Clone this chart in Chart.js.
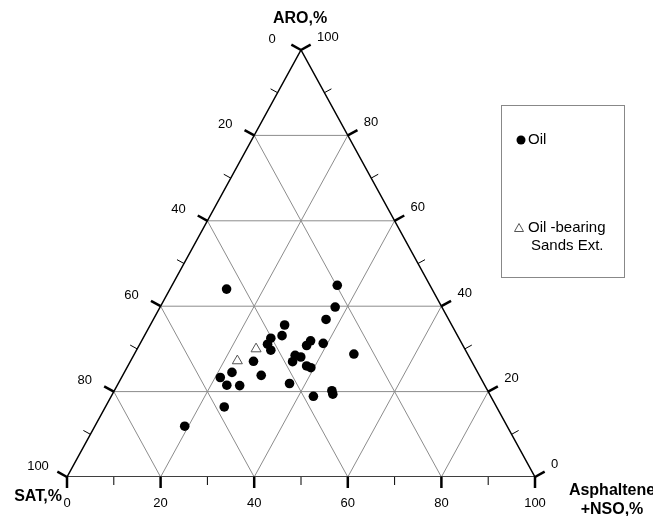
<!DOCTYPE html>
<html>
<head>
<meta charset="utf-8">
<script src="https://cdn.jsdelivr.net/npm/chart.js@4.4.0/dist/chart.umd.min.js"></script>
<style>
html,body{margin:0;padding:0;background:#fff;}
</style>
</head>
<body>
<canvas id="ternary" width="653" height="516"></canvas>
<script>
// oil samples, % SAT / ARO / Asphaltene+NSO
const oilSat  = [43.9,19.8,22.8,26.2,35.7,37.5,40.2,41.6,41.6,32.0,33.4,29.6,24.3,37.0,36.0,38.3,35.8,35.1,46.6,52.5,55.6,46.6,55.1,52.4,41.5,33.3,33.5,37.9,58.2,68.9];
const oilAro  = [44.0,44.9,39.8,36.9,35.6,33.1,32.5,31.1,29.7,31.9,30.8,31.3,28.8,28.5,28.1,27.0,26.0,25.6,27.1,24.5,23.3,23.8,21.5,21.4,21.9,20.2,19.4,18.9,16.4,11.9];
const oilAsph = [12.1,35.3,37.4,36.9,28.7,29.4,27.3,27.3,28.7,36.1,35.8,39.1,46.9,34.5,35.9,34.7,38.2,39.3,26.3,23.0,21.1,29.6,23.4,26.2,36.6,46.5,47.1,43.2,25.4,19.2];

// oil-bearing sands extracts
const sandSat  = [44.6,50.0];
const sandAro  = [30.0,27.2];
const sandAsph = [25.4,22.8];

const majorTicks = [0,20,40,60,80,100];
const minorTicks = [10,30,50,70,90];
const gridValues = [20,40,60,80];

// ternary -> cartesian (0..100 on both axes, stretched to the frame)
function toXY(sat, aro, asph){
  const s = sat + aro + asph;
  return {x: (asph + aro/2) * 100 / s, y: aro * 100 / s};
}

const oilPts = oilSat.map((s,i)=>toXY(s, oilAro[i], oilAsph[i]));
const sandPts = sandSat.map((s,i)=>toXY(s, sandAro[i], sandAsph[i]));

const gridSets = [];
gridValues.forEach(v=>{
  const segs = [
    [toXY(100-v, v, 0), toXY(0, v, 100-v)],
    [toXY(100-v, 0, v), toXY(0, 100-v, v)],
    [toXY(v, 0, 100-v), toXY(v, 100-v, 0)]
  ];
  segs.forEach(seg=>gridSets.push({
    data: seg, showLine: true, pointRadius: 0, borderColor: '#8c8c8c', borderWidth: 1, fill: false
  }));
});

const frame = [toXY(100,0,0), toXY(0,0,100), toXY(0,100,0), toXY(100,0,0)];

// sides: position of a tick value on each side + which way is "out"
const sides = [
  {name:'bottom', pos: v=>toXY(100-v, 0, v), opp: toXY(0,100,0)},
  {name:'left',   pos: v=>toXY(v, 100-v, 0), opp: toXY(0,0,100)},
  {name:'right',  pos: v=>toXY(0, v, 100-v), opp: toXY(100,0,0)}
];

const ternaryDecor = {
  id: 'ternaryDecor',
  afterDatasetsDraw(chart){
    const ctx = chart.ctx;
    const xs = chart.scales.x, ys = chart.scales.y;
    const px = p => ({x: xs.getPixelForValue(p.x), y: ys.getPixelForValue(p.y)});

    ctx.save();
    ctx.strokeStyle = '#000';
    ctx.lineCap = 'butt';
    sides.forEach(side=>{
      const a = px(side.pos(0)), b = px(side.pos(100)), o = px(side.opp);
      let nx = -(b.y - a.y), ny = b.x - a.x;
      const len = Math.hypot(nx, ny); nx /= len; ny /= len;
      const mx = (a.x+b.x)/2, my = (a.y+b.y)/2;
      if ((o.x-mx)*nx + (o.y-my)*ny > 0){ nx = -nx; ny = -ny; }
      const drawTick = (v, l, w)=>{
        const p = px(side.pos(v));
        ctx.lineWidth = w;
        ctx.beginPath();
        ctx.moveTo(p.x, p.y);
        ctx.lineTo(p.x + nx*l, p.y + ny*l);
        ctx.stroke();
      };
      minorTicks.forEach(v=>drawTick(v, 8, 1));
      majorTicks.forEach(v=>drawTick(v, 11, 2.5));

      ctx.fillStyle = '#000';
      ctx.font = '13px "Liberation Sans", Arial, sans-serif';
      ctx.textBaseline = 'middle';
      majorTicks.forEach(v=>{
        const p = px(side.pos(v));
        if (side.name === 'bottom'){
          ctx.textAlign = 'center';
          ctx.fillText(String(v), p.x, p.y + 26);
        } else if (side.name === 'left'){
          ctx.textAlign = 'center';
          ctx.fillText(String(v), p.x - 29, p.y - 11);
        } else {
          ctx.textAlign = 'left';
          ctx.fillText(String(v), p.x + 16, p.y - 13);
        }
      });
    });

    // axis titles
    ctx.font = 'bold 16px "Liberation Sans", Arial, sans-serif';
    ctx.textAlign = 'center';
    ctx.fillText('ARO,%', 300, 19);
    ctx.fillText('SAT,%', 38, 497);
    ctx.fillText('Asphaltene', 612, 491);
    ctx.fillText('+NSO,%', 612, 510);

    // legend box
    ctx.strokeStyle = '#888';
    ctx.lineWidth = 1;
    ctx.strokeRect(501.5, 105.5, 123, 172);
    ctx.fillStyle = '#000';
    ctx.beginPath();
    ctx.arc(521, 140, 4.5, 0, Math.PI*2);
    ctx.fill();
    ctx.strokeStyle = '#555';
    ctx.beginPath();
    ctx.moveTo(519, 223.5);
    ctx.lineTo(523.5, 231.5);
    ctx.lineTo(514.5, 231.5);
    ctx.closePath();
    ctx.stroke();
    ctx.fillStyle = '#000';
    ctx.font = '15px "Liberation Sans", Arial, sans-serif';
    ctx.textAlign = 'left';
    ctx.fillText('Oil', 528, 140);
    ctx.fillText('Oil -bearing', 528, 228);
    ctx.fillText('Sands Ext.', 531, 246);
    ctx.restore();
  }
};

new Chart(document.getElementById('ternary'), {
  type: 'scatter',
  data: {
    datasets: [
      {label: 'Oil', data: oilPts, pointStyle: 'circle', pointRadius: 4.8, backgroundColor: '#000', borderColor: '#000', borderWidth: 0},
      {label: 'Oil -bearing Sands Ext.', data: sandPts, pointStyle: 'triangle', pointRadius: 5.8, backgroundColor: '#fff', borderColor: '#555', borderWidth: 1},
      {data: frame, showLine: true, pointRadius: 0, borderColor: '#000', borderWidth: 1.5, fill: false},
      ...gridSets
    ]
  },
  plugins: [ternaryDecor],
  options: {
    responsive: false,
    animation: false,
    devicePixelRatio: 1,
    layout: {padding: {left: 67, right: 118, top: 50, bottom: 39}},
    scales: {
      x: {type: 'linear', min: 0, max: 100, display: false},
      y: {type: 'linear', min: 0, max: 100, display: false}
    },
    plugins: {legend: {display: false}, tooltip: {enabled: false}}
  }
});
</script>
</body>
</html>
